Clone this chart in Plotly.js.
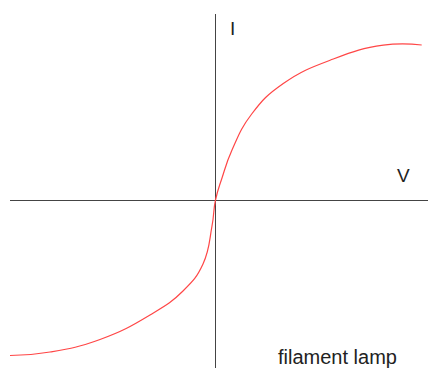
<!DOCTYPE html>
<html>
<head>
<meta charset="utf-8">
<script src="https://cdn.plot.ly/plotly-3.0.1.min.js"></script>
<style>html,body{margin:0;padding:0;background:#fff;}#chart{width:428px;height:368px;}</style>
</head>
<body>
<div id="chart"></div>
<script>
// Voltage (V) and current (I), arbitrary units
var voltage = [-10.25, -8.25, -5.75, -3.25, -1.6, -0.6, -0.15, 0.025,
               0.35, 0.85, 1.835, 3.415, 5.915, 8.415, 10.335];
var current = [-7.775, -7.6, -6.975, -5.75, -4.55, -3.2, -1.3, 0,
               1.1, 2.5, 4.3, 5.825, 7.05, 7.74, 7.75];
var axisLabels = ["I", "V"];
var caption = "filament lamp";

var trace = {
  x: voltage, y: current, mode: 'lines', type: 'scatter',
  line: {color: 'rgb(255,70,70)', width: 1.2, shape: 'spline', smoothing: 1.3},
  hoverinfo: 'skip'
};

var layout = {
  width: 428, height: 368,
  margin: {l: 10, r: 0, t: 14, b: 0},
  paper_bgcolor: '#fff', plot_bgcolor: '#fff',
  showlegend: false,
  font: {family: 'Liberation Sans, Arial, sans-serif', size: 19, color: '#222'},
  xaxis: {range: [-10.25, 10.65], showgrid: false, showticklabels: false, ticks: '',
          zeroline: true, zerolinecolor: '#444', zerolinewidth: 1, showline: false, fixedrange: true},
  yaxis: {range: [-8.4, 9.3], showgrid: false, showticklabels: false, ticks: '',
          zeroline: true, zerolinecolor: '#444', zerolinewidth: 1, showline: false, fixedrange: true},
  annotations: [
    {x: 0.85, y: 8.6, text: axisLabels[0], showarrow: false, xanchor: 'center', yanchor: 'middle'},
    {x: 9.4, y: 1.25, text: axisLabels[1], showarrow: false, xanchor: 'center', yanchor: 'middle'},
    {x: 6.1, y: -7.85, text: caption, showarrow: false, xanchor: 'center', yanchor: 'middle', font: {size: 20, color: '#222'}}
  ]
};

Plotly.newPlot('chart', [trace], layout, {displayModeBar: false, staticPlot: true});
</script>
</body>
</html>
